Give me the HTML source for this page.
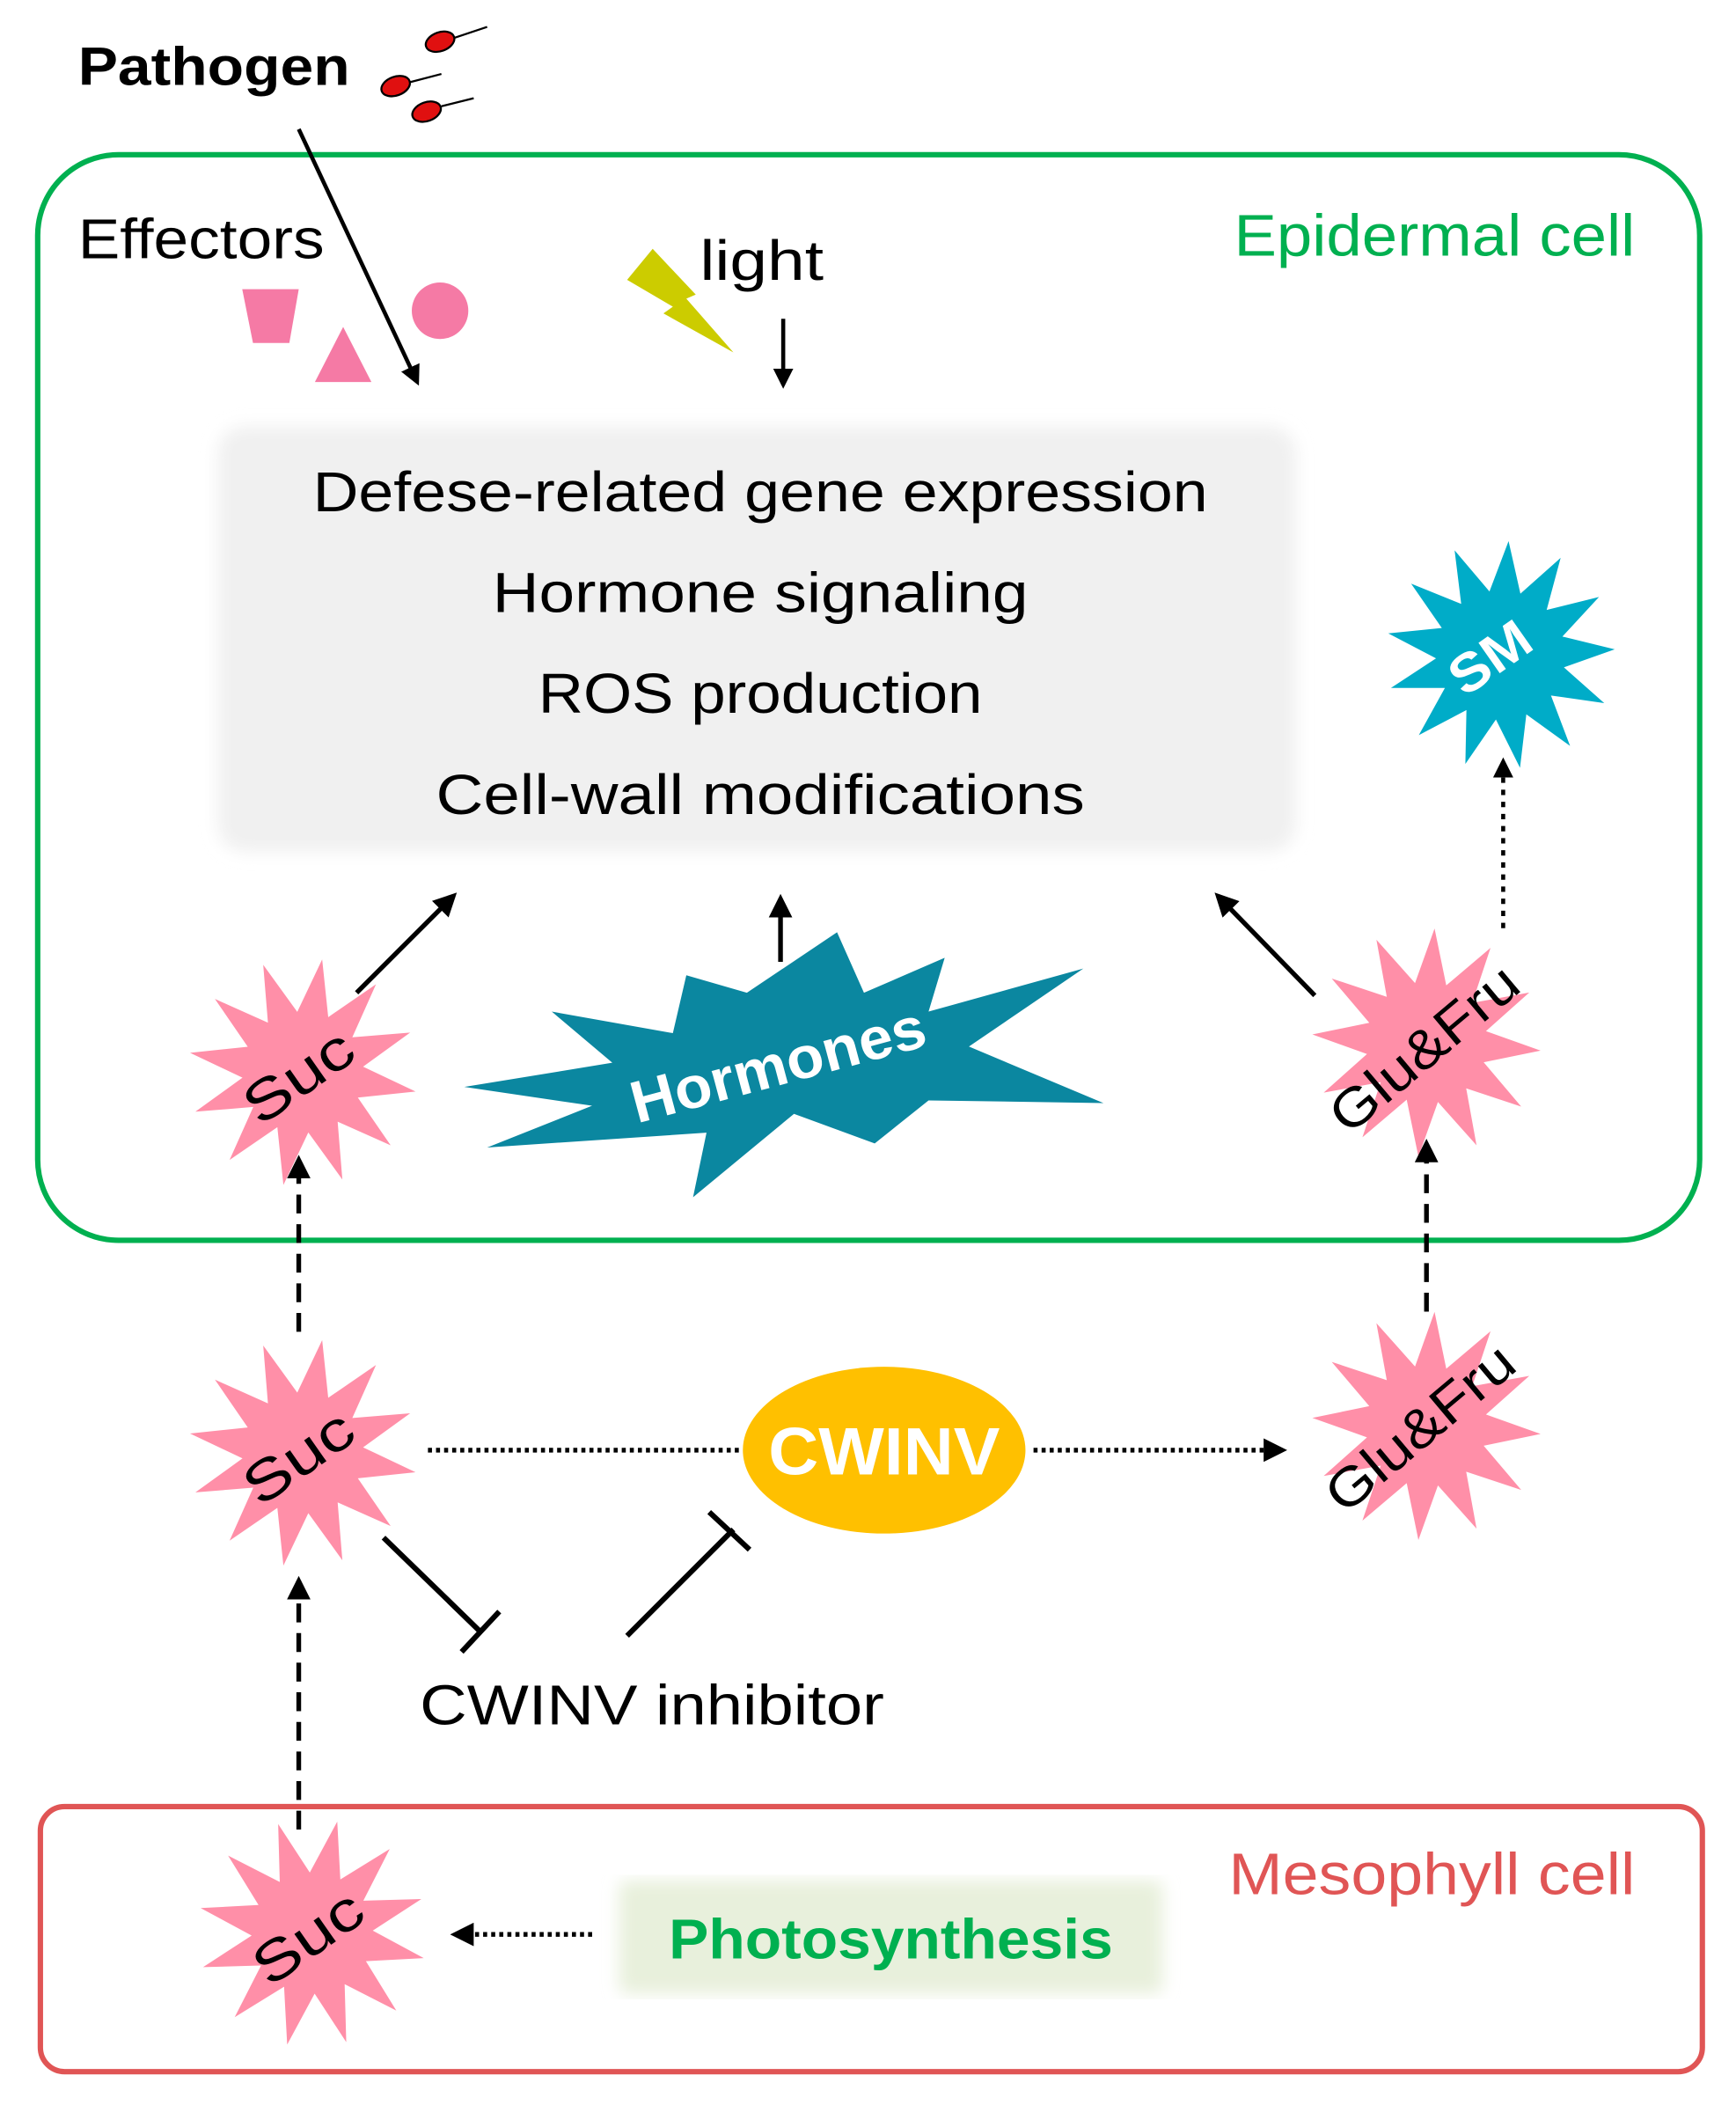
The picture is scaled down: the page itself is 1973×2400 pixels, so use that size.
<!DOCTYPE html>
<html><head><meta charset="utf-8"><style>
html,body{margin:0;padding:0;background:#fff}
svg{display:block}
text{font-family:"Liberation Sans",sans-serif}
</style></head><body>
<svg id="s" width="1973" height="2400" viewBox="0 0 1290 1570" preserveAspectRatio="none" xmlns="http://www.w3.org/2000/svg">
<defs>
<marker id="ah" viewBox="0 0 10 10" refX="8" refY="5" markerWidth="5" markerHeight="5" orient="auto"><path d="M0,0L10,5L0,10z" fill="#000"/></marker>
<filter id="bl" x="-5%" y="-5%" width="110%" height="110%"><feGaussianBlur stdDeviation="6"/></filter>
</defs>
<!-- Pathogen -->
<text x="58" y="63" font-size="40" font-weight="bold" textLength="202" lengthAdjust="spacingAndGlyphs">Pathogen</text>
<g fill="#e01010" stroke="#000" stroke-width="1.5">
<line x1="338" y1="28" x2="362" y2="20"/><ellipse cx="327" cy="31" rx="11" ry="7" transform="rotate(-20 327 31)"/>
<line x1="305" y1="61" x2="328" y2="55"/><ellipse cx="294" cy="64" rx="11" ry="7" transform="rotate(-20 294 64)"/>
<line x1="328" y1="79" x2="352" y2="73"/><ellipse cx="317" cy="83" rx="11" ry="7" transform="rotate(-20 317 83)"/>
</g>
<!-- Epidermal cell -->
<rect x="28" y="115" width="1235" height="807" rx="60" fill="none" stroke="#00b050" stroke-width="4"/>
<text x="1215" y="190" font-size="44" fill="#00b050" text-anchor="end" textLength="298" lengthAdjust="spacingAndGlyphs">Epidermal cell</text>
<text x="58" y="192" font-size="42" textLength="183" lengthAdjust="spacingAndGlyphs">Effectors</text>
<polygon points="180,215 222,215 215,255 188,255" fill="#f57aa5"/>
<polygon points="255,243 276,284 234,284" fill="#f57aa5"/>
<circle cx="327" cy="231" r="21" fill="#f57aa5"/>
<line x1="222" y1="96" x2="310" y2="284" stroke="#000" stroke-width="3" marker-end="url(#ah)"/>
<polygon points="485,185 466,208 500,228 493,233 545,262 510,222 517,219" fill="#cccc00"/>
<text x="520" y="208" font-size="42" textLength="92" lengthAdjust="spacingAndGlyphs">light</text>
<line x1="582" y1="237" x2="582" y2="286" stroke="#000" stroke-width="3" marker-end="url(#ah)"/>
<!-- grey box -->
<rect x="162" y="317" width="801" height="316" rx="20" fill="#f0f0f0" filter="url(#bl)"/>
<g font-size="42" text-anchor="middle">
<text x="565" y="380" textLength="665" lengthAdjust="spacingAndGlyphs">Defese-related gene expression</text>
<text x="565" y="455" textLength="398" lengthAdjust="spacingAndGlyphs">Hormone signaling</text>
<text x="565" y="530" textLength="330" lengthAdjust="spacingAndGlyphs">ROS production</text>
<text x="565" y="605" textLength="482" lengthAdjust="spacingAndGlyphs">Cell-wall modifications</text>
</g>
<polygon points="510,725 555,738 622,693 642,738 702,712 690,752 805,720 720,778 820,820 690,818 650,850 590,828 515,890 525,842 362,853 440,822 345,808 455,790 410,752 500,768" fill="#0b87a0"/>
<g id="stars"></g>
<!-- arrows -->
<line x1="1117" y1="690" x2="1117" y2="566" stroke="#000" stroke-width="3" stroke-dasharray="4,5" marker-end="url(#ah)"/>
<line x1="265" y1="738" x2="337" y2="666" stroke="#000" stroke-width="3.5" marker-end="url(#ah)"/>
<line x1="580" y1="715" x2="580" y2="668" stroke="#000" stroke-width="3.5" marker-end="url(#ah)"/>
<line x1="977" y1="740" x2="905" y2="666" stroke="#000" stroke-width="3.5" marker-end="url(#ah)"/>
<line x1="222" y1="990" x2="222" y2="862" stroke="#000" stroke-width="3.5" stroke-dasharray="14,8" marker-end="url(#ah)"/>
<line x1="1060" y1="975" x2="1060" y2="850" stroke="#000" stroke-width="3.5" stroke-dasharray="14,8" marker-end="url(#ah)"/>
<line x1="222" y1="1360" x2="222" y2="1175" stroke="#000" stroke-width="3.5" stroke-dasharray="14,8" marker-end="url(#ah)"/>
<!-- CWINV -->
<ellipse cx="657" cy="1078" rx="105" ry="62" fill="#ffc000"/>
<text x="657" y="1096" font-size="50" font-weight="bold" fill="#fff" text-anchor="middle" textLength="172" lengthAdjust="spacingAndGlyphs">CWINV</text>
<line x1="318" y1="1078" x2="550" y2="1078" stroke="#000" stroke-width="3.5" stroke-dasharray="3,3"/>
<line x1="768" y1="1078" x2="953" y2="1078" stroke="#000" stroke-width="3.5" stroke-dasharray="3,3" marker-end="url(#ah)"/>
<g stroke="#000" stroke-width="4">
<line x1="285" y1="1143" x2="357" y2="1213"/><line x1="343" y1="1228" x2="371" y2="1198"/>
<line x1="466" y1="1216" x2="545" y2="1137"/><line x1="527" y1="1124" x2="557" y2="1152"/>
</g>
<text x="312" y="1282" font-size="42" textLength="345" lengthAdjust="spacingAndGlyphs">CWINV inhibitor</text>
<!-- Mesophyll -->
<rect x="30" y="1343" width="1235" height="197" rx="18" fill="none" stroke="#e05555" stroke-width="4"/>
<text x="1215" y="1408" font-size="44" fill="#e05555" text-anchor="end" textLength="302" lengthAdjust="spacingAndGlyphs">Mesophyll cell</text>
<rect x="460" y="1398" width="404" height="84" rx="6" fill="#e8f0dc" filter="url(#bl)"/>
<text x="662" y="1456" font-size="42" font-weight="bold" fill="#00b050" text-anchor="middle" textLength="330" lengthAdjust="spacingAndGlyphs">Photosynthesis</text>
<line x1="440" y1="1438" x2="338" y2="1438" stroke="#000" stroke-width="3.5" stroke-dasharray="3,3" marker-end="url(#ah)"/>
<text x="582" y="806" font-size="44" fill="#fff" font-weight="bold" text-anchor="middle" transform="rotate(-15 582 806)" textLength="225" lengthAdjust="spacingAndGlyphs">Hormones</text>
<g id="labels"></g>
</svg>
<script>
var NS="http://www.w3.org/2000/svg";
function star(cx,cy,n,ro,ri,rot,fill){
 var p=[];for(var i=0;i<2*n;i++){var r=i%2?ri:ro;var a=rot+Math.PI*i/n;p.push((cx+r*Math.cos(a)).toFixed(1)+","+(cy+r*Math.sin(a)).toFixed(1));}
 var e=document.createElementNS(NS,"polygon");e.setAttribute("points",p.join(" "));e.setAttribute("fill",fill);document.getElementById("stars").appendChild(e);}
function lab(x,y,t,rot,size,fill,bold,len){var e=document.createElementNS(NS,"text");e.setAttribute("x",x);e.setAttribute("y",y);e.setAttribute("font-size",size);e.setAttribute("fill",fill);e.setAttribute("text-anchor","middle");if(bold)e.setAttribute("font-weight","bold");e.setAttribute("transform","rotate("+rot+" "+x+" "+y+")");if(len){e.setAttribute("textLength",len);e.setAttribute("lengthAdjust","spacingAndGlyphs");}e.textContent=t;document.getElementById("labels").appendChild(e);}
var pk="#ff8fa8";
star(225,797,12,85,45,-1.4,pk);
star(225,1080,12,85,45,-1.4,pk);
star(232,1437,12,85,45,-1.35,pk);
star(1060,775,12,85,45,-1.5,pk);
star(1060,1060,12,85,45,-1.5,pk);
star(1115,487,13,85,48,-1.5,"#00acc8");
lab(230,812,"Suc",-35,42,"#000",false,90);
lab(230,1095,"Suc",-35,42,"#000",false,90);
lab(237,1452,"Suc",-35,42,"#000",false,90);
lab(1067,790,"Glu&Fru",-40,40,"#000",false,170);
lab(1064,1072,"Glu&Fru",-40,40,"#000",false,170);
lab(1115,500,"SM",-35,40,"#fff",true,65);
</script>
</body></html>
